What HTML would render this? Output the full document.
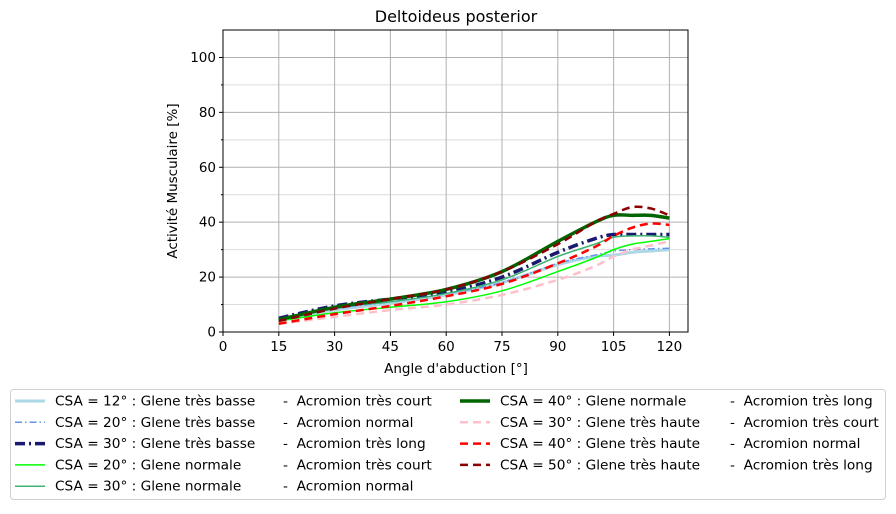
<!DOCTYPE html>
<html><head><meta charset="utf-8"><style>
body{margin:0;background:#fff;width:896px;height:509px;overflow:hidden}
svg{font-family:"DejaVu Sans","Liberation Sans",sans-serif}
</style></head><body>
<svg id="chart" width="896" height="509"></svg>
<script>
const xs=[15,30,45,60,75,90,100,105,110,115,120];
const sNames=["CSA = 12° : Glene très basse","CSA = 20° : Glene très basse","CSA = 30° : Glene très basse","CSA = 20° : Glene normale","CSA = 30° : Glene normale","CSA = 40° : Glene normale","CSA = 30° : Glene très haute","CSA = 40° : Glene très haute","CSA = 50° : Glene très haute"];
const sAcro=["Acromion très court","Acromion normal","Acromion très long","Acromion très court","Acromion normal","Acromion très long","Acromion très court","Acromion normal","Acromion très long"];
const v0=[4.5,8,10.5,13.5,18,24.5,27.5,28,29,29.5,30];
const v1=[4.5,8.5,11,14,18,25,28,29.5,30,30.3,30.5];
const v2=[5,9.5,12,14.5,20,29,34,35.5,35.5,35.5,35.5];
const v3=[4,7,9,11,15,22,27,30,32,33,34];
const v4=[4.5,9,11,14,19,27.5,32,34.5,35,35,34.5];
const v5=[4.5,9,12,15.5,22,33,40,42.5,42.5,42.5,41.5];
const v6=[3,5.5,8,10,13.5,19,24,27.5,30,31.5,33];
const v7=[3,6.5,9.5,13,17.5,25,31,35,38,39.5,39];
const v8=[4,8.5,12,15.5,22,32,40,43,45.5,45,42.5];
const series=[v0,v1,v2,v3,v4,v5,v6,v7,v8];
const styles=[
{c:"#add8e6",w:3,d:""},{c:"#6495ed",w:1.5,d:"7,3,1.5,3"},{c:"#191970",w:3.5,d:"10,4,2,4"},
{c:"#00ff00",w:1.5,d:""},{c:"#3cb371",w:1.5,d:""},{c:"#006400",w:3.5,d:""},
{c:"#ffc0cb",w:2.5,d:"8,5"},{c:"#ff0000",w:2.5,d:"8,5"},{c:"#8b0000",w:2.5,d:"8,5"}];
const xTicks=[0,15,30,45,60,75,90,105,120];
const yTicks=[0,20,40,60,80,100];
const L=223,R=688,T=30,B=332;
const X=v=>L+(v/125)*(R-L), Y=v=>B-(v/110)*(B-T);
const svg=document.getElementById('chart');const NS="http://www.w3.org/2000/svg";
function el(t,a,p){const e=document.createElementNS(NS,t);for(const k in a)e.setAttribute(k,a[k]);(p||svg).appendChild(e);return e;}
let e;
e=el('text',{x:456,y:22,'text-anchor':'middle','font-size':16});e.textContent="Deltoideus posterior";


for(let v=10;v<110;v+=20){e=el('line',{x1:L,x2:R,y1:Y(v),y2:Y(v),stroke:'#dcdcdc','stroke-width':1});

}
yTicks.forEach(v=>{e=el('line',{x1:L,x2:R,y1:Y(v),y2:Y(v),stroke:'#b0b0b0','stroke-width':1});


e=el('line',{x1:L-4,x2:L,y1:Y(v),y2:Y(v),stroke:'#000'});
e=el('text',{x:L-7,y:Y(v)+4.5,'text-anchor':'end','font-size':13.5});e.textContent=v;

});
for(let v=10;v<110;v+=20){el('line',{x1:L-2,x2:L,y1:Y(v),y2:Y(v),stroke:'#000'});}
xTicks.forEach(v=>{e=el('line',{x1:X(v),x2:X(v),y1:T,y2:B,stroke:'#b0b0b0','stroke-width':1});


el('line',{x1:X(v),x2:X(v),y1:B,y2:B+4,stroke:'#000'});
e=el('text',{x:X(v),y:B+19,'text-anchor':'middle','font-size':13.5});e.textContent=v;

});
function path(vals){const p=xs.map((x,i)=>[X(x),Y(vals[i])]);let d=`M${p[0][0]},${p[0][1]}`;
for(let i=0;i<p.length-1;i++){const p0=p[i-1]||p[i],p1=p[i],p2=p[i+1],p3=p[i+2]||p2;
d+=` C${p1[0]+(p2[0]-p0[0])/6},${p1[1]+(p2[1]-p0[1])/6} ${p2[0]-(p3[0]-p1[0])/6},${p2[1]-(p3[1]-p1[1])/6} ${p2[0]},${p2[1]}`;}return d;}
series.forEach((vals,i)=>{const s=styles[i];
e=el('path',{d:path(vals),fill:'none',stroke:s.c,'stroke-width':s.w,'stroke-dasharray':s.d});

});
e=el('rect',{x:L,y:T,width:R-L,height:B-T,fill:'none',stroke:'#000','stroke-width':1});


e=el('text',{x:456,y:373,'text-anchor':'middle','font-size':13.5});e.textContent="Angle d'abduction [°]";


e=el('text',{x:177,y:181,'text-anchor':'middle','font-size':13.5,transform:'rotate(-90 177 181)'});e.textContent="Activité Musculaire [%]";


e=el('rect',{x:10.5,y:389.5,width:875,height:110,rx:3,fill:'#fff',stroke:'#d0d0d0'});


series.forEach((_,i)=>{const col=i<5?0:1,row=i<5?i:i-5;const bx=col?460:15,ty=401+row*21.3;const s=styles[i];
e=el('line',{x1:bx,x2:bx+30,y1:ty,y2:ty,stroke:s.c,'stroke-width':s.w,'stroke-dasharray':s.d});


e=el('text',{x:bx+40,y:ty+4.5,'font-size':13.7});e.textContent=sNames[i];


e=el('text',{x:col?730:283,y:ty+4.5,'font-size':13.7});e.textContent="-\u00a0\u00a0"+sAcro[i];

});
</script></body></html>
